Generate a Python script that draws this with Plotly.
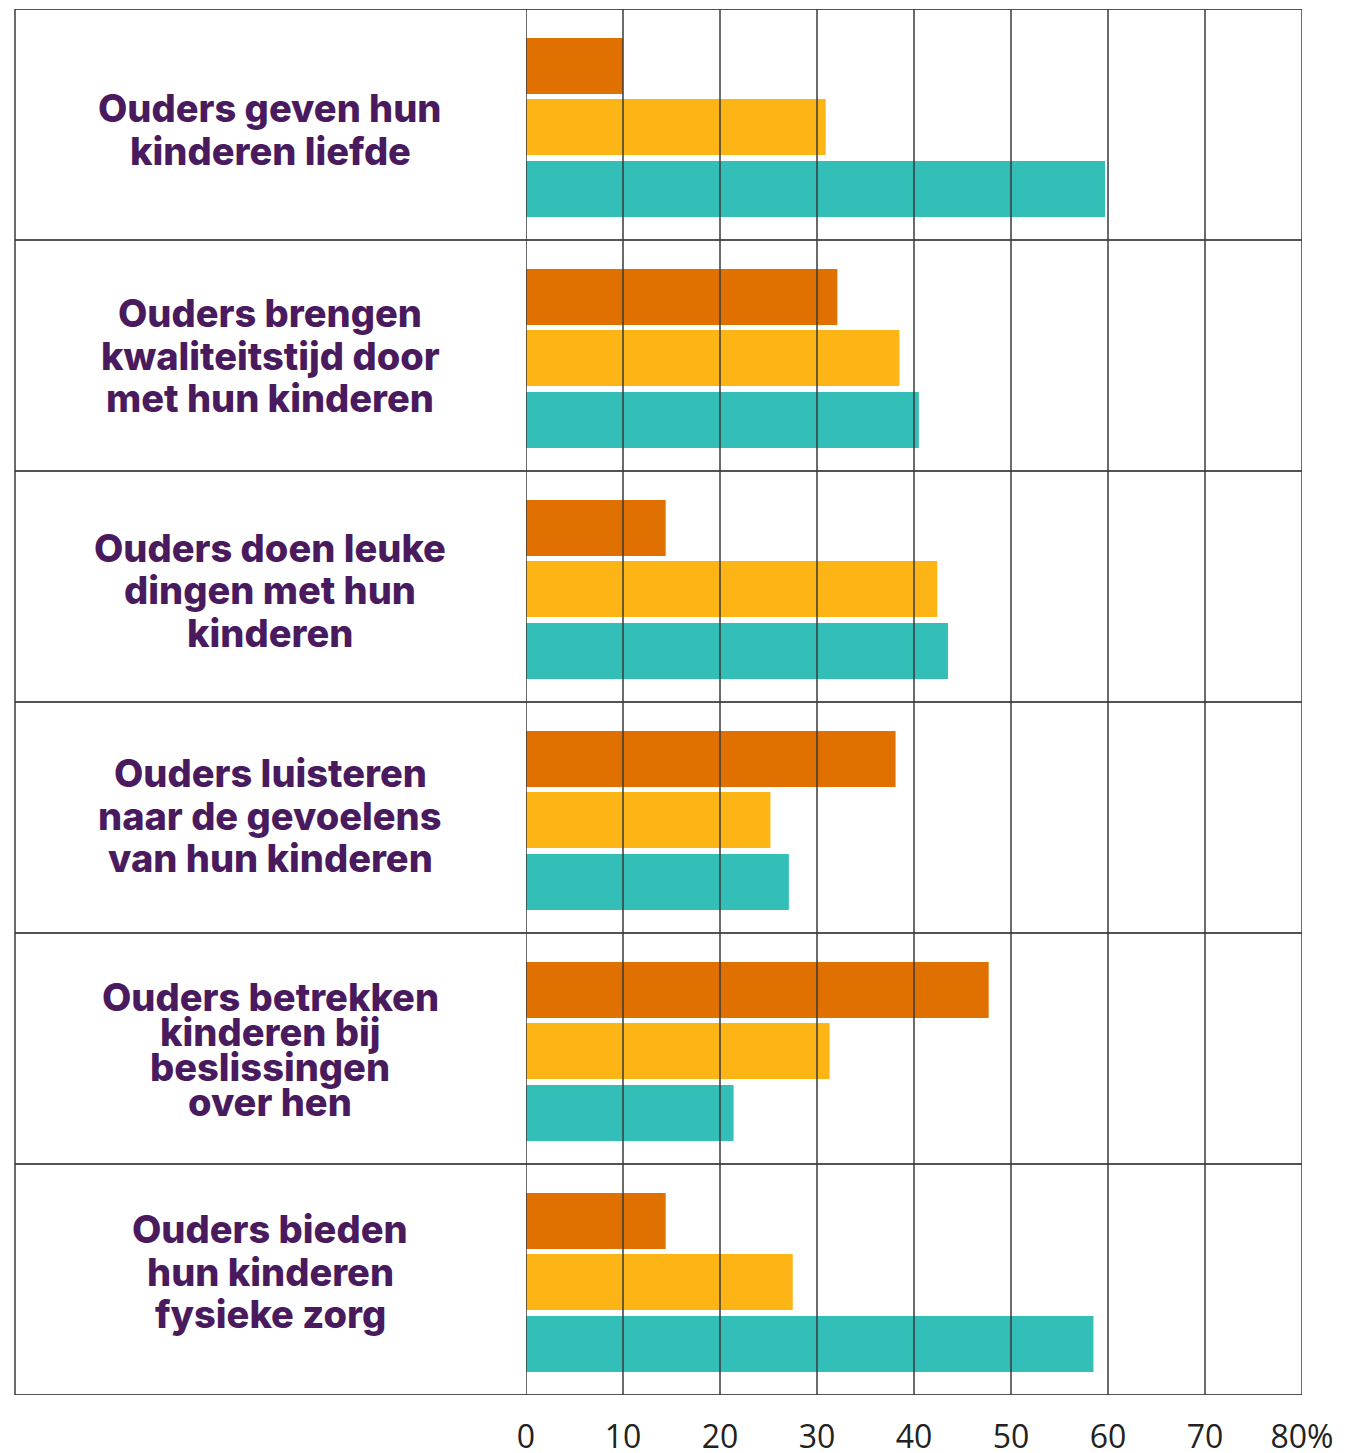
import plotly.graph_objects as go

categories = [
    "Ouders geven hun kinderen liefde",
    "Ouders brengen kwaliteitstijd door met hun kinderen",
    "Ouders doen leuke dingen met hun kinderen",
    "Ouders luisteren naar de gevoelens van hun kinderen",
    "Ouders betrekken kinderen bij beslissingen over hen",
    "Ouders bieden hun kinderen fysieke zorg",
]
label_lines = [
    ["Ouders geven hun", "kinderen liefde"],
    ["Ouders brengen", "kwaliteitstijd door", "met hun kinderen"],
    ["Ouders doen leuke", "dingen met hun", "kinderen"],
    ["Ouders luisteren", "naar de gevoelens", "van hun kinderen"],
    ["Ouders betrekken", "kinderen bij", "beslissingen", "over hen"],
    ["Ouders bieden", "hun kinderen", "fysieke zorg"],
]
series_orange = [10.0, 32.1, 14.4, 38.1, 47.7, 14.4]
series_yellow = [30.9, 38.5, 42.4, 25.2, 31.3, 27.5]
series_teal = [59.7, 40.5, 43.5, 27.1, 21.4, 58.5]
tick_values = [0, 10, 20, 30, 40, 50, 60, 70, 80]
tick_labels = ["0", "10", "20", "30", "40", "50", "60", "70", "80%"]

colors = ["#E07000", "#FDB515", "#33BFB7"]
purple = "#4A1A5E"

OFF = 8  # page body margin
W, H = 1346, 1445
L = 526 - OFF
R = W - (1302 - OFF)
T = 9 - OFF
B = H - (1395 - OFF)
plot_w = W - L - R
row_px = (H - T - B) / len(categories)

# bar placement within each row (pixels relative to row centre)
bar_thick = 56 / row_px
bar_offsets = [-86.5 / row_px, -25.5 / row_px, 36.5 / row_px]

fig = go.Figure()
for k, (name, vals) in enumerate([("a", series_orange), ("b", series_yellow), ("c", series_teal)]):
    fig.add_trace(go.Bar(y=categories, x=vals, orientation="h", name=name,
                         width=bar_thick, offset=bar_offsets[k],
                         marker=dict(color=colors[k], line=dict(width=0)),
                         showlegend=False, hoverinfo="x"))

left_paper = ((15 - OFF) - L) / plot_w
shapes = []
for i in range(len(categories) + 1):
    shapes.append(dict(type="line", xref="paper", yref="y", x0=left_paper, x1=1,
                       y0=i - 0.5, y1=i - 0.5, line=dict(color="#1a1a1a", width=1.5),
                       layer="above"))
shapes.append(dict(type="line", xref="paper", yref="y", x0=left_paper, x1=left_paper,
                   y0=-0.5, y1=len(categories) - 0.5, line=dict(color="#3a3a3a", width=1.5),
                   layer="above"))
for v in tick_values:
    shapes.append(dict(type="line", xref="x", yref="y", x0=v, x1=v,
                       y0=-0.5, y1=len(categories) - 0.5,
                       line=dict(color="#3a3a3a", width=1.5), layer="above"))

label_dy = [5, 0, 3.5, -2, 1, -8]  # fine vertical adjust per label block (px, down)
annotations = []
for i, lines in enumerate(label_lines):
    n = len(lines)
    sp = 35 if n == 4 else 42.5
    for j, ln in enumerate(lines):
        off = (j - (n - 1) / 2) * sp + label_dy[i]
        annotations.append(dict(text=ln, xref="paper", yref="y",
                                x=((270 - OFF) - L) / plot_w,
                                y=i, xanchor="center", yanchor="middle", showarrow=False,
                                yshift=-off,
                                font=dict(family="Inter", size=38, color=purple, weight=800)))

fig.update_layout(
    width=W, height=H, autosize=False,
    margin=dict(l=L, r=R, t=T, b=B, pad=0, autoexpand=False),
    paper_bgcolor="white", plot_bgcolor="white",
    barmode="overlay",
    shapes=shapes, annotations=annotations,
    xaxis=dict(range=[0, 80], tickvals=tick_values, ticktext=tick_labels,
               showgrid=False, zeroline=False, showline=False, automargin=False,
               ticks="", ticklabelstandoff=20,
               tickfont=dict(family="Open Sans", size=32, color="#222222")),
    yaxis=dict(range=[len(categories) - 0.5, -0.5], showticklabels=False,
               automargin=False,
               showgrid=False, zeroline=False, showline=False, ticks=""),
)

fig.write_html("out.html")
